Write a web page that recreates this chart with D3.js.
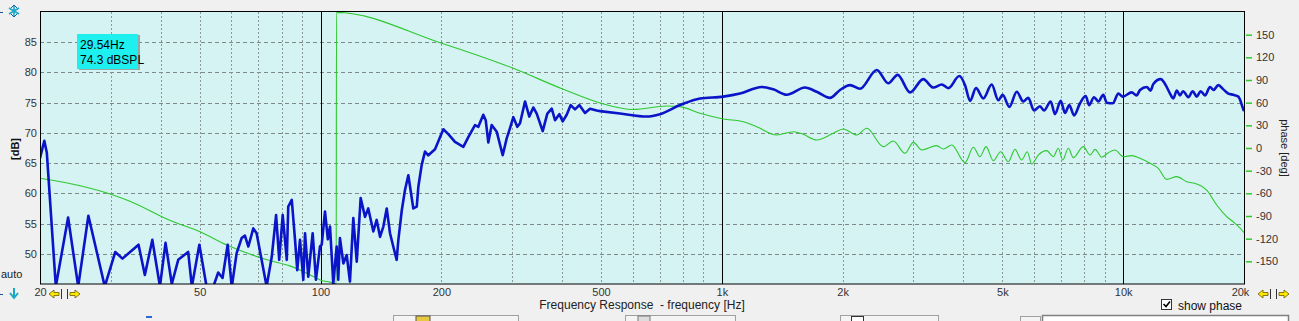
<html>
<head>
<meta charset="utf-8">
<script src="https://cdn.jsdelivr.net/npm/d3@7"></script>
<style>
  body { margin: 0; background: #f0f0f0; font-family: "Liberation Sans", Arial, sans-serif; }
  svg { display: block; }
  .tick text { font-family: "Liberation Sans", Arial, sans-serif; font-size: 11px; fill: #333; }
</style>
</head>
<body>
<svg id="Chart"></svg>
<script>
// frequency response [Hz, dB SPL]
let response = [
  [20, 65.8], [20.5, 68.7], [20.8, 66.7], [21.9, 44.6], [23.5, 56.0], [24.9, 44.6], [26.4, 56.3],
  [29.0, 44.6], [30.8, 50.3], [32.1, 49.2], [35.2, 51.5], [36.5, 46.5], [38.1, 52.3], [39.8, 44.6],
  [41.1, 51.8], [42.6, 45.0], [44.2, 49.0], [46.8, 50.3], [47.8, 44.6], [49.9, 51.5], [52.0, 44.6],
  [53.7, 44.0], [55.6, 46.9], [57.0, 46.0], [58.7, 51.5], [60.1, 44.5], [61.8, 50.1], [63.6, 52.6],
  [64.8, 53.0], [66.1, 51.2], [68.0, 54.2], [69.3, 53.4], [73.4, 44.6], [75.6, 49.5], [77.5, 56.4],
  [78.9, 49.0], [80.5, 56.4], [82.4, 49.0], [83.1, 57.8], [84.8, 58.9], [86.4, 52.3], [87.5, 47.3],
  [88.9, 52.3], [90.6, 45.7], [91.5, 53.4], [93.2, 46.2], [95.6, 53.4], [97.4, 45.7], [99.7, 51.2],
  [100.7, 51.5], [102.6, 57.0], [104.3, 52.4], [105.6, 54.5], [107.6, 45.1], [109.7, 51.2], [110.7, 45.7],
  [111.8, 52.6], [114.0, 48.4], [116.2, 49.8], [118.4, 45.4], [120.7, 55.9], [123.1, 48.7], [125.9, 59.2],
  [129.1, 56.1], [131.5, 57.5], [135.4, 53.7], [138.0, 55.6], [140.7, 52.8], [143.4, 54.5], [146.2, 57.5],
  [149.0, 53.4], [151.8, 51.2], [154.8, 49.0], [156.3, 52.3], [159.4, 57.2], [162.4, 60.6], [165.5, 63.0],
  [170.3, 57.5], [173.7, 57.8], [175.3, 61.1], [178.7, 64.7], [182.1, 66.9], [185.6, 66.3], [192.9, 67.3],
  [202.3, 70.6], [208.2, 69.8], [216.3, 68.5], [226.9, 67.7], [233.5, 69.3], [242.6, 71.3], [247.3, 71.0],
  [254.4, 73.0], [258.0, 72.1], [261.9, 68.4], [267.0, 71.3], [274.8, 70.2], [284.4, 66.3], [291.0, 69.1],
  [296.6, 70.8], [302.3, 72.6], [309.3, 71.0], [314.1, 71.6], [323.3, 75.2], [331.3, 72.7], [339.0, 74.2],
  [345.7, 73.2], [357.8, 70.3], [367.4, 73.2], [376.8, 74.0], [384.0, 72.1], [393.6, 73.1], [401.3, 71.9],
  [410.6, 73.0], [420.1, 74.6], [430.6, 73.9], [441.4, 74.6], [456.1, 73.3], [469.3, 74.0], [487.7, 73.7],
  [497, 73.6], [557.5, 73.2], [649.8, 72.7], [701.3, 73.1], [786.7, 74.6], [882.3, 75.7], [1008, 76.0],
  [1110, 76.5], [1257, 77.6], [1343, 77.2], [1451, 76.3], [1611, 77.5], [1723, 76.8], [1860, 75.8],
  [1970, 77.1], [2086, 77.9], [2209, 77.3], [2432, 80.4], [2599, 78.2], [2742, 79.6], [2944, 76.7],
  [3176, 78.9], [3364, 77.5], [3531, 78.0], [3668, 77.4], [3906, 79.4], [4036, 77.9], [4154, 75.3],
  [4298, 77.4], [4482, 75.7], [4703, 78.0], [4884, 75.4], [5009, 76.3], [5204, 74.3], [5430, 76.8],
  [5637, 75.2], [5801, 75.8], [5994, 73.7], [6204, 74.4], [6348, 73.7], [6597, 75.2], [6762, 73.1],
  [6987, 75.3], [7162, 73.3], [7341, 74.6], [7542, 72.9], [7806, 74.9], [8066, 76.1], [8221, 74.6],
  [8460, 75.9], [8671, 75.2], [8923, 76.3], [9099, 75.0], [9418, 74.9], [9726, 76.5], [9975, 76.0],
  [10502, 76.7], [10800, 76.2], [11014, 77.1], [11447, 77.6], [11700, 77.0], [11888, 78.1], [12404, 78.9],
  [12714, 78.1], [13084, 76.5], [13334, 75.7], [13600, 77.0], [13856, 76.2], [14100, 76.9], [14532, 75.9],
  [14900, 76.9], [15248, 76.0], [15600, 76.9], [15992, 76.2], [16458, 77.6], [16800, 77.1], [17260, 77.9],
  [17763, 77.2], [18281, 76.5], [18813, 76.3], [19361, 76.0], [19921, 73.9], [20000, 73.6]
];

// phase [Hz, deg]
let phase = [
  [20, -40], [22.9, -45.4], [29.9, -60.9], [33.5, -70.5], [42.2, -96], [50.1, -111], [58.4, -128.4],
  [74.8, -149], [83.9, -156], [95.9, -170], [99.7, -174.7], [105.6, -177.5], [109.4, -179.5],
  [109.6, 179.5], [198.5, 139.4], [302.3, 105.5], [402.7, 77.7], [497, 59.6], [601.8, 51],
  [730.6, 55.6], [786.7, 54.7], [882.3, 45.9], [1008, 38.4], [1131, 34.8], [1221, 28.2], [1370, 17.2],
  [1507, 21.6], [1596, 18.1], [1723, 10.6], [1895, 19.5], [2007, 25.1], [2168, 17.2], [2296, 26.1],
  [2526, 1.8], [2674, 9.3], [2860, -7], [3000, 7.5], [3148, -2.6], [3430, 3.1], [3564, -1.3],
  [3739, 4], [4036, -19.4], [4232, 0.9], [4398, -11.5], [4553, 1.8], [4746, -16.8], [4952, -4.9],
  [5173, -18.1], [5376, -1.8], [5585, -15.9], [5768, -4.9], [5916, -21.2], [6144, -9.3], [6448, -3.5],
  [6696, -11.5], [6892, -0.4], [7069, -15.9], [7301, -0.4], [7512, -12.8], [7955, 1.8], [8268, -9.3],
  [8510, -1.8], [8842, -12.3], [9184, -6.2], [9543, -2.6], [10010, -11.5], [10502, -10.1],
  [11014, -13.7], [11666, -20.3], [12234, -26.9], [12840, -41.5], [13596, -37.9], [14397, -44.6],
  [15248, -47.6], [16149, -55.6], [17102, -75.4], [18113, -90.9], [18995, -99.7], [19921, -110.8],
  [20000, -112]
];

let freqLabels = [20, 50, 100, 200, 500, 1000, 2000, 5000, 10000, 20000];
let decadeLines = [100, 1000, 10000];
let minorLines = [30, 40, 50, 60, 70, 80, 90, 200, 300, 400, 500, 600, 700, 800, 900,
                  2000, 3000, 4000, 5000, 6000, 7000, 8000, 9000];
let dbTicks = [50, 55, 60, 65, 70, 75, 80, 85];
let phaseTicks = [-150, -120, -90, -60, -30, 0, 30, 60, 90, 120, 150];
let cursorText = ["29.54Hz", "74.3 dBSPL"];

function getConfig() {
  let width = 1299;
  let height = 321;
  let plot = { left: 40, right: 1244, top: 12, bottom: 284 };
  let container = d3.select("#Chart").attr("width", width).attr("height", height);
  return { width, height, plot, container };
}

function getScales(config) {
  let { plot } = config;
  let xScale = d3.scaleLog().domain([20, 20000]).range([plot.left, plot.right]);
  let yScale = d3.scaleLinear().domain([45, 90]).range([plot.bottom, plot.top]);
  let phaseScale = d3.scaleLinear().domain([-180, 180]).range([plot.bottom, plot.top]);
  return { xScale, yScale, phaseScale };
}

function drawFrame(config, scales) {
  let { container, plot } = config;
  let { xScale, yScale } = scales;
  container.append("rect").attr("width", config.width).attr("height", config.height).attr("fill", "#f0f0f0");
  container.append("rect")
    .attr("x", plot.left).attr("y", plot.top)
    .attr("width", plot.right - plot.left).attr("height", plot.bottom - plot.top)
    .attr("fill", "#d5f3f3");

  let grid = container.append("g");
  grid.selectAll(".hgrid").data(dbTicks).enter().append("line")
    .attr("x1", plot.left).attr("x2", plot.right)
    .attr("y1", d => Math.round(yScale(d)) + 0.5).attr("y2", d => Math.round(yScale(d)) + 0.5)
    .attr("stroke", "#7c8a8a").attr("stroke-dasharray", "4,3");
  grid.selectAll(".vgrid").data(minorLines).enter().append("line")
    .attr("x1", d => Math.round(xScale(d)) + 0.5).attr("x2", d => Math.round(xScale(d)) + 0.5)
    .attr("y1", plot.top).attr("y2", plot.bottom)
    .attr("stroke", "#8c9898").attr("stroke-dasharray", "2,2");
  grid.selectAll(".decade").data(decadeLines).enter().append("line")
    .attr("x1", d => Math.round(xScale(d)) + 0.5).attr("x2", d => Math.round(xScale(d)) + 0.5)
    .attr("y1", plot.top).attr("y2", plot.bottom)
    .attr("stroke", "#000");
}

function drawCurves(config, scales) {
  let { container, plot } = config;
  let { xScale, yScale, phaseScale } = scales;
  container.append("clipPath").attr("id", "plotClip").append("rect")
    .attr("x", plot.left).attr("y", plot.top)
    .attr("width", plot.right - plot.left).attr("height", plot.bottom - plot.top);
  let body = container.append("g").attr("clip-path", "url(#plotClip)");

  let phaseLine = d3.line().x(d => xScale(d[0])).y(d => phaseScale(d[1])).curve(d3.curveMonotoneX);
  body.append("path").datum(phase)
    .attr("d", phaseLine).attr("fill", "none").attr("stroke", "#2ec82e").attr("stroke-width", 1.1);

  // sparse FFT bins drawn straight at the low end, smooth above
  let lowLine = d3.line().x(d => xScale(d[0])).y(d => yScale(d[1]));
  let highLine = d3.line().x(d => xScale(d[0])).y(d => yScale(d[1])).curve(d3.curveMonotoneX);
  body.append("path").datum(response.filter(d => d[0] <= 497))
    .attr("d", lowLine).attr("fill", "none").attr("stroke", "#0a14c8")
    .attr("stroke-width", 2.6).attr("stroke-linejoin", "round");
  body.append("path").datum(response.filter(d => d[0] >= 497))
    .attr("d", highLine).attr("fill", "none").attr("stroke", "#0a14c8")
    .attr("stroke-width", 2.6).attr("stroke-linejoin", "round");

  container.append("rect")
    .attr("x", plot.left + 0.5).attr("y", plot.top - 0.5)
    .attr("width", plot.right - plot.left).attr("height", plot.bottom - plot.top + 0.5)
    .attr("fill", "none").attr("stroke", "#000");
}

function drawAxes(config, scales) {
  let { container, plot } = config;
  let { xScale, yScale, phaseScale } = scales;

  let axisX = d3.axisBottom(xScale).tickValues(freqLabels).tickSize(0).tickPadding(4)
    .tickFormat(d => d >= 1000 ? (d / 1000) + "k" : d);
  let gx = container.append("g").attr("transform", `translate(0,${plot.bottom})`).call(axisX);
  gx.select(".domain").remove();
  gx.selectAll(".tick text").filter(d => d == 20000).attr("dx", "-4");

  let axisY = d3.axisLeft(yScale).tickValues(dbTicks).tickSize(0).tickPadding(3);
  let gy = container.append("g").attr("transform", `translate(${plot.left},0)`).call(axisY);
  gy.select(".domain").remove();

  let axisP = d3.axisRight(phaseScale).tickValues(phaseTicks).tickSize(6).tickPadding(4)
    .tickFormat(d => String(d));
  let gp = container.append("g").attr("transform", `translate(${plot.right + 2},0)`).call(axisP);
  gp.select(".domain").remove();
  gp.selectAll(".tick line").attr("stroke", "#2ec82e").attr("stroke-width", 1.5);

  container.append("text").attr("x", 642).attr("y", 309).attr("text-anchor", "middle")
    .style("font-size", "12px").style("white-space", "pre").attr("fill", "#222")
    .text("Frequency Response  - frequency [Hz]");
  container.append("text").attr("transform", "translate(19,149) rotate(-90)").attr("text-anchor", "middle")
    .style("font-size", "11px").style("font-weight", "bold").attr("fill", "#111").text("[dB]");
  container.append("text").attr("transform", "translate(1281,148) rotate(90)").attr("text-anchor", "middle")
    .style("font-size", "11px").attr("fill", "#222").text("phase [deg]");
  container.append("text").attr("x", 1).attr("y", 278)
    .style("font-size", "11px").attr("fill", "#222").text("auto");
}

function drawCursorBox(config) {
  let { container } = config;
  container.append("rect").attr("x", 79).attr("y", 35).attr("width", 61).attr("height", 35).attr("fill", "#9aa6a6");
  container.append("rect").attr("x", 77).attr("y", 34).attr("width", 61).attr("height", 35).attr("fill", "#1ef0f0");
  container.selectAll(".cursor").data(cursorText).enter().append("text")
    .attr("x", 80).attr("y", (d, i) => 49 + i * 15)
    .style("font-size", "12px").attr("fill", "#000").text(d => d);
}

function arrowPair(g, x, y) {
  // yellow "<=|" and "|=>" scroll buttons
  g.append("path").attr("d", `M${x},${y} l5,-4 v2.5 h5 v3 h-5 v2.5 z`)
    .attr("fill", "#ffe800").attr("stroke", "#6a5a00").attr("stroke-width", 0.8);
  g.append("line").attr("x1", x + 12.5).attr("x2", x + 12.5).attr("y1", y - 5).attr("y2", y + 5).attr("stroke", "#333");
  g.append("line").attr("x1", x + 18.5).attr("x2", x + 18.5).attr("y1", y - 5).attr("y2", y + 5).attr("stroke", "#333");
  g.append("path").attr("d", `M${x + 31},${y} l-5,-4 v2.5 h-5 v3 h5 v2.5 z`)
    .attr("fill", "#ffe800").attr("stroke", "#6a5a00").attr("stroke-width", 0.8);
}

function drawWidgets(config) {
  let { container } = config;
  let g = container.append("g");
  arrowPair(g, 49, 294);
  arrowPair(g, 1258, 294);

  // zoom icons on the dB axis
  g.append("path").attr("d", "M14,5 v12 M9,8 l10,6 M19,8 l-10,6")
    .attr("stroke", "#1aa8c8").attr("stroke-width", 1.6);
  g.append("path").attr("d", "M11,8 l3,-3 l3,3 M11,14 l3,3 l3,-3")
    .attr("fill", "none").attr("stroke", "#1060a0").attr("stroke-width", 1);
  g.append("path").attr("d", "M14,288 v9 M10,293 l4,5 l4,-5")
    .attr("fill", "none").attr("stroke", "#1aa8c8").attr("stroke-width", 2);
  g.append("line").attr("x1", 0).attr("x2", 3).attr("y1", 12.5).attr("y2", 12.5).attr("stroke", "#2050a0");
  g.append("line").attr("x1", 0).attr("x2", 3).attr("y1", 294.5).attr("y2", 294.5).attr("stroke", "#2050a0");

  // show phase checkbox
  g.append("rect").attr("x", 1161.5).attr("y", 299.5).attr("width", 10).attr("height", 10)
    .attr("fill", "#fff").attr("stroke", "#333");
  g.append("path").attr("d", "M1163.5,304 l2.5,2.5 l4,-5").attr("fill", "none").attr("stroke", "#000").attr("stroke-width", 1.6);
  g.append("text").attr("x", 1178).attr("y", 309.5).style("font-size", "12px").attr("fill", "#111").text("show phase");

  // tool strip peeking in at the bottom edge
  g.append("rect").attr("x", 146).attr("y", 316).attr("width", 6).attr("height", 2).attr("fill", "#2a6ad8");
  [[393, 518], [625, 735], [840, 938]].forEach(b => {
    g.append("rect").attr("x", b[0] + 0.5).attr("y", 315.5).attr("width", b[1] - b[0]).attr("height", 10)
      .attr("fill", "#f4f4f4").attr("stroke", "#a0a0a0");
  });
  g.append("rect").attr("x", 416).attr("y", 316).attr("width", 14).attr("height", 6).attr("fill", "#e8c840").attr("stroke", "#555");
  g.append("rect").attr("x", 638).attr("y", 316).attr("width", 12).attr("height", 6).attr("fill", "#ddd").attr("stroke", "#777");
  g.append("rect").attr("x", 851.5).attr("y", 316.5).attr("width", 12).attr("height", 8).attr("fill", "#fff").attr("stroke", "#333");
  g.append("rect").attr("x", 1020.5).attr("y", 316.5).attr("width", 20).attr("height", 8).attr("fill", "#f4f4f4").attr("stroke", "#a0a0a0");
  g.append("rect").attr("x", 1042.5).attr("y", 315.5).attr("width", 246).attr("height", 10)
    .attr("fill", "#fff").attr("stroke", "#808080").attr("stroke-width", 1.5);
}

function showChart() {
  let config = getConfig();
  let scales = getScales(config);
  drawFrame(config, scales);
  drawCurves(config, scales);
  drawAxes(config, scales);
  drawCursorBox(config);
  drawWidgets(config);
}

showChart();
</script>
</body>
</html>
